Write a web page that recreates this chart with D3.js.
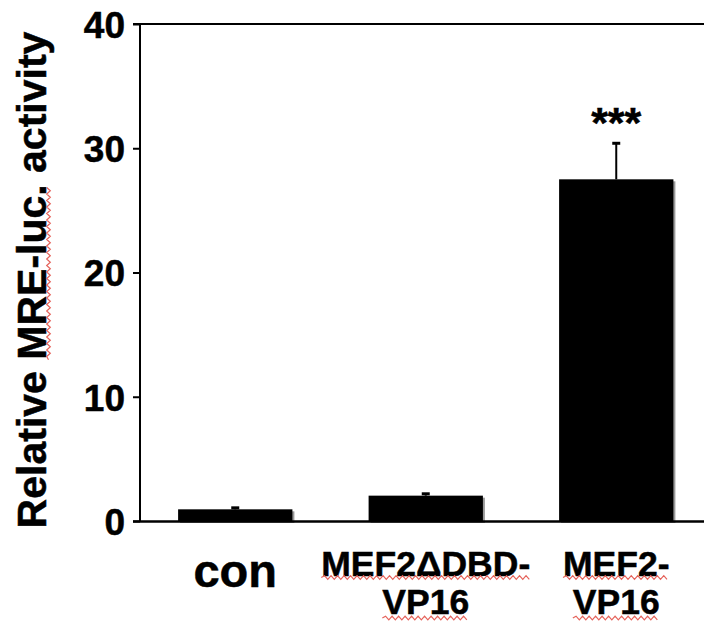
<!DOCTYPE html>
<html>
<head>
<meta charset="utf-8">
<script src="https://cdn.jsdelivr.net/npm/d3@7"></script>
<style>
  html, body { margin: 0; padding: 0; background: #fff; }
  svg { display: block; }
  text { font-family: "Liberation Sans", Arial, Helvetica, sans-serif; font-weight: bold; fill: #000; stroke: #000; stroke-width: 0.5px; }
</style>
</head>
<body>
<script>
// ---- data ----
const categories = ["con", "MEF2ΔDBD-VP16", "MEF2-VP16"];
const labelLines = [["con"], ["MEF2ΔDBD-", "VP16"], ["MEF2-", "VP16"]];
const means = [0.94, 2.04, 27.5];
const errors = [0.12, 0.15, 2.9];
const significance = ["", "", "***"];
const yTicks = [0, 10, 20, 30, 40];
const yTitleParts = ["Relative ", "MRE-luc.", " activity"];
const underlinedLabelLines = [[], [0, 1], [0, 1]];

// ---- layout ----
const W = 704, H = 622;
const svg = d3.select("body").append("svg").attr("width", W).attr("height", H);

const y = d3.scaleLinear().domain([0, 40]).range([521, 24]);
const x = d3.scaleBand().domain(categories).range([140, 711.5])
  .paddingInner(0.4).paddingOuter(0.2);

const waveColor = "#e5625a";
function wavePath(x0, x1, yy) {
  const period = 6.5, amp = 1.8;
  let d = `M${x0},${yy}`;
  let up = true;
  for (let xx = x0 + period / 2; xx <= x1 + 0.01; xx += period / 2) {
    d += `L${xx},${yy + (up ? -amp : amp)}`;
    up = !up;
  }
  return d;
}

// bars (shadow + bar)
const g = svg.append("g");
g.selectAll("rect.shadow").data(categories).join("rect")
  .attr("class", "shadow")
  .attr("x", d => x(d) + 2)
  .attr("y", (d, i) => y(means[i]) + 2)
  .attr("width", x.bandwidth())
  .attr("height", (d, i) => y(0) - y(means[i]))
  .attr("fill", "#9a9a9a");
g.selectAll("rect.bar").data(categories).join("rect")
  .attr("class", "bar")
  .attr("x", d => x(d))
  .attr("y", (d, i) => y(means[i]))
  .attr("width", x.bandwidth())
  .attr("height", (d, i) => y(0) - y(means[i]))
  .attr("fill", "#000");

// error bars (upper only)
g.selectAll("line.err").data(categories).join("line")
  .attr("x1", d => x(d) + x.bandwidth() / 2)
  .attr("x2", d => x(d) + x.bandwidth() / 2)
  .attr("y1", (d, i) => y(means[i]))
  .attr("y2", (d, i) => y(means[i] + errors[i]))
  .attr("stroke", "#000").attr("stroke-width", 2);
g.selectAll("line.cap").data(categories).join("line")
  .attr("x1", d => x(d) + x.bandwidth() / 2 - 4)
  .attr("x2", d => x(d) + x.bandwidth() / 2 + 4)
  .attr("y1", (d, i) => y(means[i] + errors[i]))
  .attr("y2", (d, i) => y(means[i] + errors[i]))
  .attr("stroke", "#000").attr("stroke-width", 3);

// significance stars
g.selectAll("text.sig").data(categories).join("text")
  .attr("x", d => x(d) + x.bandwidth() / 2)
  .attr("y", (d, i) => y(means[i] + errors[i]) - 6)
  .attr("text-anchor", "middle")
  .style("font-size", "43px")
  .text((d, i) => significance[i]);

// y axis
const yAxis = svg.append("g").attr("transform", "translate(140,0)")
  .call(d3.axisLeft(y).tickValues(yTicks).tickSize(7).tickPadding(8));
yAxis.select(".domain").remove();
yAxis.selectAll(".tick line").attr("stroke", "#000").attr("stroke-width", 2);
yAxis.selectAll(".tick text")
  .attr("dy", "0.36em")
  .style("font-size", "37px")
  .style("font-family", "'Liberation Sans', Arial, sans-serif")
  .style("font-weight", "bold")
  .attr("fill", "#000");
svg.append("line")
  .attr("x1", 140).attr("x2", 140).attr("y1", y(40)).attr("y2", y(0))
  .attr("stroke", "#000").attr("stroke-width", 2);
// top frame line and baseline
svg.append("line")
  .attr("x1", 133).attr("x2", W).attr("y1", y(40)).attr("y2", y(40))
  .attr("stroke", "#000").attr("stroke-width", 2);
svg.append("line")
  .attr("x1", 133).attr("x2", W).attr("y1", y(0) + 0.5).attr("y2", y(0) + 0.5)
  .attr("stroke", "#000").attr("stroke-width", 2.6);

// y axis title
const titleG = svg.append("g").attr("transform", "translate(46,280) rotate(-90)");
const title = titleG.append("text").attr("x", 0).attr("y", 0)
  .attr("text-anchor", "middle").style("font-size", "41px");
yTitleParts.forEach(p => title.append("tspan").text(p));
{
  const node = title.node();
  const L = node.getComputedTextLength();
  const s0 = node.getSubStringLength(0, yTitleParts[0].length);
  const s1 = node.getSubStringLength(yTitleParts[0].length, yTitleParts[1].length);
  const start = -L / 2 + s0;
  titleG.append("path").attr("d", wavePath(start, start + s1, 2.5))
    .attr("fill", "none").attr("stroke", waveColor).attr("stroke-width", 1.2);
}

// x labels
const xl = svg.append("g");
categories.forEach((c, i) => {
  const cx = x(c) + x.bandwidth() / 2;
  const lines = labelLines[i];
  lines.forEach((ln, j) => {
    const single = lines.length === 1;
    const baseline = single ? 587 : 575.5 + j * 38.5;
    const t = xl.append("text")
      .attr("x", cx).attr("y", baseline)
      .attr("text-anchor", "middle")
      .style("font-size", single ? "47px" : "35.5px")
      .text(ln);
    if (underlinedLabelLines[i].includes(j)) {
      const w = t.node().getComputedTextLength();
      xl.append("path").attr("d", wavePath(cx - w / 2, cx + w / 2, baseline + 2 + j * 2))
        .attr("fill", "none").attr("stroke", waveColor).attr("stroke-width", 1.2);
    }
  });
});
</script>
</body>
</html>
